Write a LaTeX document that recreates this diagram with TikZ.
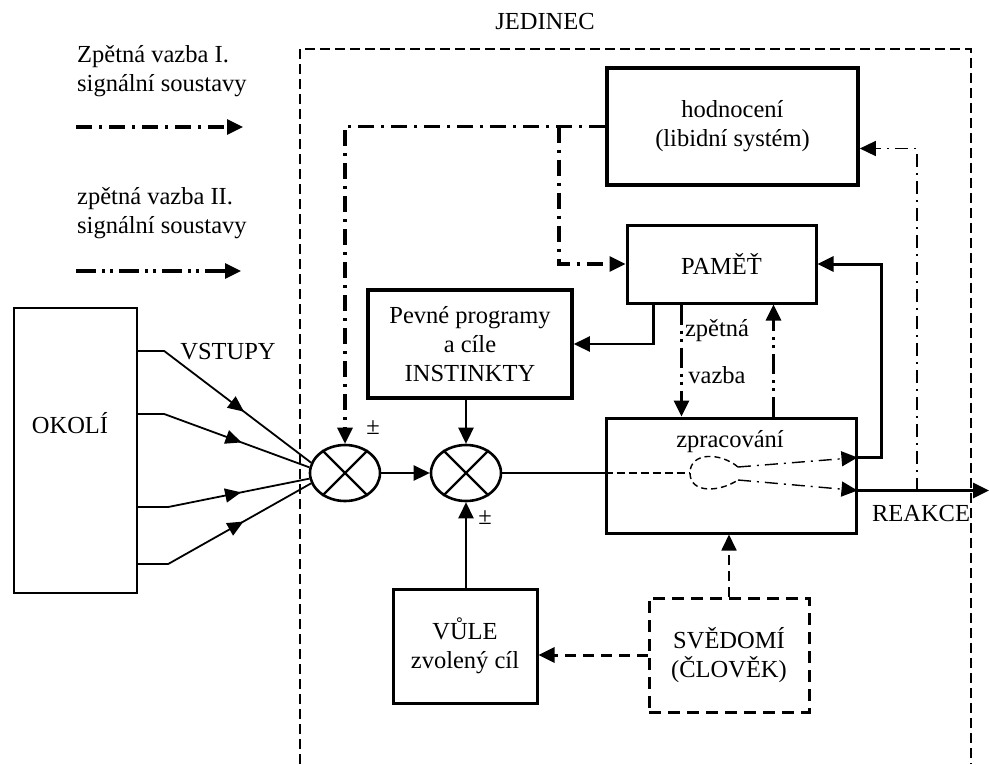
\documentclass[tikz,border=0pt]{standalone}
\usepackage{fontspec}
\setmainfont{Liberation Serif}
\usetikzlibrary{arrows.meta,shapes.geometric,decorations.markings}

\begin{document}
\begin{tikzpicture}[x=1pt, y=-1pt, font=\fontsize{24.5}{29}\selectfont,
      >={Triangle[length=16pt,width=15pt]},
      box/.style={draw, line width=3.6pt, align=center, inner sep=0pt},
      thinbox/.style={draw, line width=2.4pt, align=center, inner sep=0pt},
      dashbox/.style={box, line width=3pt, dash pattern=on 12pt off 7pt},
      summer/.style={draw, ellipse, line width=2.6pt, minimum width=70pt, minimum height=56pt, inner sep=0pt},
      txt/.style={inner sep=0pt, align=center},
      sig/.style={line width=2.6pt},
      fbone/.style={line width=3.2pt, dash pattern=on 16pt off 7pt on 3pt off 7pt},
      fbtwo/.style={line width=3.2pt, dash pattern=on 20pt off 6pt on 3pt off 5pt on 3pt off 6pt},
      thindot/.style={line width=1.4pt, dash pattern=on 13pt off 6pt on 2pt off 6pt},
      inp/.style={line width=1.8pt, postaction={decorate},
        decoration={markings, mark=at position 0.6 with {\arrow{Triangle[length=16pt,width=14pt]}}}}]
    \useasboundingbox (0,0) rectangle (989,764);
    % legend
    \node[txt, anchor=west, align=left] (legone) at (77,71) {Zpětná vazba I.\\signální soustavy};
    \coordinate (legonea) at (76,127);
    \coordinate (legoneb) at (243,127);
    \draw[fbone, ->] (legonea) -- (legoneb);
    \node[txt, anchor=west, align=left] (legtwo) at (77,213) {zpětná vazba II.\\signální soustavy};
    \coordinate (legtwoa) at (76,271);
    \coordinate (legtwob) at (241,271);
    \draw[fbtwo, ->] (legtwoa) -- (legtwob);
    % individual
    \node[txt] (jedinec) at (545,22) {JEDINEC};
    \draw[line width=1.4pt, dash pattern=on 10pt off 5pt] (300,764) |- (971,49) -- (971,764);
    % boxes
    \node[thinbox, minimum width=123pt, minimum height=285pt] (okoli) at (75.5,450.5) {};
    \node[txt] (okolitxt) at (70,423) {OKOLÍ};
    \node[box, minimum width=251pt, minimum height=117pt] (hodn) at (732.5,126.5) {hodnocení\\(libidní systém)};
    \node[box, line width=3pt, minimum width=189pt, minimum height=78pt] (pamet) at (721.5,264) {PAMĚŤ};
    \node[box, minimum width=204pt, minimum height=108pt] (pevne) at (470,344) {Pevné programy\\a cíle\\INSTINKTY};
    \node[box, line width=3pt, minimum width=250pt, minimum height=115pt] (zprac) at (731,475.5) {};
    \node[txt] (zpractxt) at (730,442) {zpracování};
    \node[box, line width=3pt, minimum width=144pt, minimum height=114pt] (vule) at (465,646) {VŮLE\\zvolený cíl};
    \node[dashbox, minimum width=160pt, minimum height=114pt] (svedomi) at (729,655) {SVĚDOMÍ\\(ČLOVĚK)};
    \node[summer] (sum1) at (345,473) {};
    \node[summer] (sum2) at (466,473) {};
    \foreach \s in {sum1,sum2} {
      \draw[line width=2.2pt] (\s.45) -- (\s.225) (\s.135) -- (\s.315);
    }
    % inputs
    \node[txt] (vstupy) at (228,352) {VSTUPY};
    \draw[inp] (okoli.east |- 0,351) -- ++(26,0) -- (sum1.163);
    \draw[inp] (okoli.east |- 0,414) -- ++(26,0) -- (sum1.171);
    \draw[inp] (okoli.east |- 0,507) -- ++(30,0) -- (sum1.189);
    \draw[inp] (okoli.east |- 0,564) -- ++(30,0) -- (sum1.197);
    % feedback from evaluation
    \coordinate (fbsplit) at (559,126.5);
    \draw[fbone, ->] (hodn.west) -| (sum1.north);
    \draw[fbone, ->] (fbsplit) |- (pamet.west);
    \node[txt] (pmone) at (373,428) {±};
    % main chain
    \draw[sig, ->] (sum1) -- (sum2);
    \draw[sig, ->] (pevne.south -| sum2.north) -- (sum2.north);
    \draw[sig, ->] (vule.north -| sum2.south) -- (sum2.south);
    \node[txt] (pmtwo) at (485,518) {±};
    \draw[sig] (sum2.east) -- (sum2.east -| zprac.west);
    \draw[line width=2.2pt, dash pattern=on 8pt off 4pt] (sum2.east -| zprac.west) -- (690,473);
    \coordinate (forka) at (738,467);
    \coordinate (forkb) at (738,480);
    \draw[line width=1.4pt, dash pattern=on 6pt off 4pt] (forka) .. controls (720,452) and (690,452) .. (690,473)
      .. controls (690,494) and (720,492) .. (forkb);
    \draw[thindot, ->] (forka) -- ([yshift=18pt]zprac.east);
    \draw[thindot, ->] (forkb) -- ([yshift=-15pt]zprac.east);
    \draw[sig, line width=3pt, ->] ([yshift=18pt]zprac.east) -- ++(24,0) |- (pamet.east);
    \coordinate (reakce) at (989,490.5);
    \coordinate (tap) at (917,490.5);
    \draw[line width=3.2pt, ->] ([yshift=-15pt]zprac.east) -- (reakce);
    \node[txt] (reakcetxt) at (921,514) {REAKCE};
    \draw[thindot, ->] (tap) |- ([yshift=-22pt]hodn.east);
    % memory loops
    \draw[sig, ->] ([xshift=-68pt]pamet.south) |- (pevne.east);
    \draw[fbtwo, ->] ([xshift=-40pt]pamet.south) -- ([xshift=-40pt]pamet.south |- zprac.north);
    \draw[fbtwo, ->] ([xshift=52pt]pamet.south |- zprac.north) -- ([xshift=52pt]pamet.south);
    \node[txt] (zpetna) at (717,331) {zpětná};
    \node[txt] (vazba) at (717,375) {vazba};
    % conscience
    \draw[line width=3pt, dash pattern=on 11pt off 7pt, ->] (svedomi.west) -- (svedomi.west -| vule.east);
    \draw[line width=1.8pt, dash pattern=on 10pt off 6pt, ->] (svedomi.north) -- (svedomi.north |- zprac.south);
  \end{tikzpicture}
\end{document}
